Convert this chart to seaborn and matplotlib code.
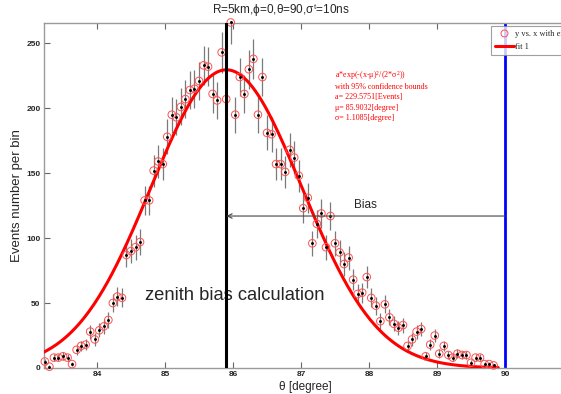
import numpy as np
import pandas as pd
import matplotlib
matplotlib.use("Agg")
import matplotlib.pyplot as plt
import seaborn as sns
from matplotlib.lines import Line2D

# ---------------- data ----------------
theta_bins = [83.233, 83.300, 83.367, 83.433, 83.500, 83.567, 83.633, 83.700, 83.767, 83.833,
              83.900, 83.967, 84.033, 84.100, 84.167, 84.233, 84.300, 84.367, 84.433, 84.500,
              84.567, 84.633, 84.700, 84.767, 84.833, 84.900, 84.967, 85.033, 85.100, 85.167,
              85.233, 85.300, 85.367, 85.433, 85.500, 85.567, 85.633, 85.700, 85.767, 85.833,
              85.900, 85.967, 86.033, 86.100, 86.167, 86.233, 86.300, 86.367, 86.433, 86.500,
              86.567, 86.633, 86.700, 86.767, 86.833, 86.900, 86.967, 87.033, 87.100, 87.167,
              87.233, 87.300, 87.367, 87.433, 87.500, 87.567, 87.633, 87.700, 87.767, 87.833,
              87.900, 87.967, 88.033, 88.100, 88.167, 88.233, 88.300, 88.367, 88.433, 88.500,
              88.567, 88.633, 88.700, 88.767, 88.833, 88.900, 88.967, 89.033, 89.100, 89.167,
              89.233, 89.300, 89.367, 89.433, 89.500, 89.567, 89.633, 89.700, 89.767, 89.833]
counts = [5, 1, 8, 8, 9, 8, 3, 14, 17, 18,
          28, 22, 29, 32, 37, 50, 55, 54, 87, 90,
          93, 97, 129, 129, 152, 159, 157, 178, 195, 193,
          201, 207, 214, 215, 221, 233, 232, 211, 206, 243,
          207, 266, 195, 224, 211, 230, 238, 195, 224, 181,
          180, 157, 157, 151, 168, 162, 148, 123, 131, 96,
          111, 119, 93, 117, 96, 89, 80, 85, 68, 57,
          58, 70, 54, 48, 36, 49, 39, 34, 31, 33,
          17, 22, 28, 30, 9, 18, 25, 11, 17, 10,
          8, 11, 10, 10, 4, 8, 8, 3, 3, 2]

fit_a = 229.5751
fit_mu = 85.9032
fit_sigma = 1.1085
fit_range = [83.2, 89.9]
true_theta = 90.0
bias_level = 117

x_ticks = [84, 85, 86, 87, 88, 89, 90]
y_ticks = [0, 50, 100, 150, 200, 250]

df = pd.DataFrame({"theta": theta_bins, "n": counts})
df["err"] = np.sqrt(df["n"])

xf = np.linspace(fit_range[0], fit_range[1], 400)
fit_df = pd.DataFrame({"theta": xf,
                       "fit": fit_a * np.exp(-(xf - fit_mu) ** 2 / (2 * fit_sigma ** 2))})

# ---------------- figure ----------------
sns.set_style("white")
plt.rcParams['font.family'] = ['Liberation Sans', 'DejaVu Sans']
plt.rcParams['mathtext.fontset'] = 'custom'
plt.rcParams['mathtext.rm'] = 'Liberation Serif'
plt.rcParams['mathtext.it'] = 'Liberation Serif'

fig = plt.figure(figsize=(5.61, 3.94), dpi=100)
ax = fig.add_axes([44 / 561, 1 - 368 / 394, (590 - 44) / 561, (368 - 23) / 394])

px_per_deg = 68.0
ax.set_xlim(84 - 53 / px_per_deg, 90 + (590 - 505) / px_per_deg)
ax.set_ylim(0, 265.6)

# error bars
ax.errorbar(df["theta"], df["n"], yerr=df["err"], fmt="none", ecolor="#7a7a7a",
            elinewidth=0.9, capsize=0, zorder=2)
# fit curve
sns.lineplot(data=fit_df, x="theta", y="fit", color="#ff0000", lw=2.2, ax=ax,
             zorder=3, legend=False)
# data circles
sns.scatterplot(data=df, x="theta", y="n", ax=ax, marker="o", s=30,
                facecolor="none", edgecolor="#ff5050", linewidth=0.7, zorder=4,
                clip_on=False, legend=False)
ax.scatter(df["theta"], df["n"], s=1.2, color="black", zorder=5, clip_on=False)

# vertical lines
ax.axvline(fit_mu, color="black", lw=2.2, zorder=6)
ax.axvline(true_theta, color="#0000ff", lw=2.0, zorder=1)

# bias arrow
ax.annotate("", xy=(fit_mu, bias_level), xytext=(true_theta, bias_level),
            arrowprops=dict(arrowstyle="->", color="#444444", lw=0.8,
                            shrinkA=0, shrinkB=0, mutation_scale=8), zorder=7)
ax.text(87.95, bias_level + 4, "Bias", fontsize=8.5, ha="center", va="bottom")

ax.text(84.7, 56, "zenith bias calculation", fontsize=13.2, ha="left", va="center")

# fit info text
serif = ["Liberation Serif", "DejaVu Serif"]
fit_lines = ["a*exp(-(x-μ)$^2$/(2*σ$^2$))",
             "with 95% confidence bounds",
             "a= 229.5751[Events]",
             "μ= 85.9032[degree]",
             "σ= 1.1085[degree]"]
for i, s in enumerate(fit_lines):
    fig.text(335 / 561, 1 - (76 + i * 10.6) / 394, s, fontsize=5.8, color="#ff0000",
             family=serif, va="center", ha="left")

# axes styling
for side in ["top", "bottom", "left", "right"]:
    ax.spines[side].set_color("#9a9a9a")
    ax.spines[side].set_linewidth(1.0)
ax.set_xticks(x_ticks)
ax.set_yticks(y_ticks)
ax.tick_params(axis="both", direction="in", length=4, width=0.8, color="#666666",
               labelsize=6, pad=2.5, top=True, bottom=True, left=True)
for lab in ax.get_xticklabels() + ax.get_yticklabels():
    lab.set_fontweight("bold")

ax.set_xlabel("θ [degree]", fontsize=8.5)
ax.set_ylabel("Events number per bin", fontsize=9.5)
ax.xaxis.set_label_coords((305 - 44) / (590 - 44), -(387 - 368) / 345)
ax.xaxis.label.set_va("center")
ax.yaxis.set_label_coords(-(44 - 17) / 546, 0.5)
ax.yaxis.label.set_va("center")
fig.suptitle("R=5km,ϕ=0,θ=90,σ$^t$=10ns", fontsize=8.5, y=1 - 11 / 394, va="center")

# legend
handles = [Line2D([], [], marker="o", ls="none", mfc="none", mec="#ff5050", ms=5, mew=0.7),
           Line2D([], [], color="#ff0000", lw=2.2)]
leg = fig.legend(handles, ["y vs. x with errorbars", "fit 1"], loc="upper left",
                 bbox_to_anchor=(491 / 561, 1 - 26 / 394), frameon=True, fancybox=False,
                 prop={"family": serif, "size": 6},
                 handlelength=2.2, borderpad=0.5, labelspacing=0.6, handletextpad=0.2,
                 borderaxespad=0)
leg.get_frame().set_edgecolor("#888888")
leg.get_frame().set_linewidth(0.8)
leg.set_zorder(10)

fig.savefig("out.png", dpi=100)
